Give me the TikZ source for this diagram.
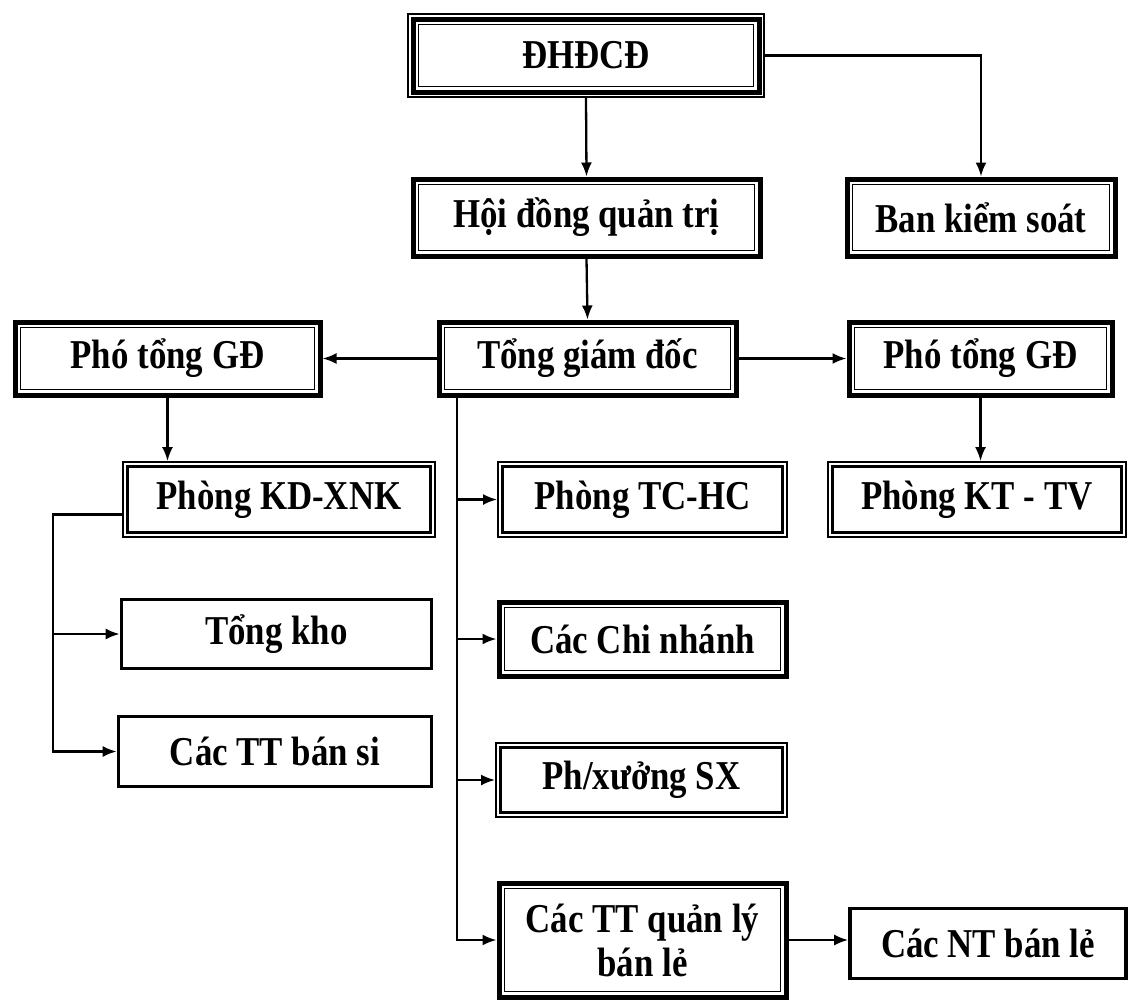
\documentclass[tikz,border=0pt]{standalone}
\usepackage{fontspec}
\setmainfont{Liberation Serif}[FakeStretch=0.85]
\usetikzlibrary{arrows,arrows.meta,positioning,calc}

\tikzset{
  unit/.style={draw,align=center,inner sep=0pt,
    font=\fontsize{41}{44}\selectfont\bfseries},
  tripleunit/.style={unit,line width=1.8pt,
    path picture={
      \draw[line width=5pt] ([shift={(5pt,5pt)}]path picture bounding box.south west)
        rectangle ([shift={(-5pt,-5pt)}]path picture bounding box.north east);
      \draw[line width=1.8pt] ([shift={(10.5pt,10.5pt)}]path picture bounding box.south west)
        rectangle ([shift={(-10.5pt,-10.5pt)}]path picture bounding box.north east);}},
  thickunit/.style={unit,line width=5pt,
    path picture={
      \draw[line width=1.8pt] ([shift={(5.5pt,5.5pt)}]path picture bounding box.south west)
        rectangle ([shift={(-5.5pt,-5.5pt)}]path picture bounding box.north east);}},
  thinunit/.style={unit,line width=1.8pt,
    path picture={
      \draw[line width=3pt] ([shift={(4.8pt,4.8pt)}]path picture bounding box.south west)
        rectangle ([shift={(-4.8pt,-4.8pt)}]path picture bounding box.north east);}},
  plainunit/.style={unit,line width=3.6pt},
  link/.style={-{Latex[length=14pt,width=11pt]},line width=2.3pt}
}

\begin{document}
\begin{tikzpicture}[x=1pt,y=-1pt]
\useasboundingbox (0,0) rectangle (1130,1002);
\node (dhdcd) [tripleunit,minimum width=356pt,minimum height=83pt] at (586,55.5) {ĐHĐCĐ};
\node (hdqt) [thickunit,minimum width=347pt,minimum height=77pt] at (586.5,217.5) {Hội đồng quản trị};
\node (bks) [thickunit,minimum width=268pt,minimum height=77pt] at (981,217.5) {Ban kiểm soát};
\node (tgd) [thickunit,minimum width=297pt,minimum height=73pt] at (587.5,358.5) {Tổng giám đốc};
\node (phoL) [thickunit,minimum width=305pt,minimum height=73pt] at (167.5,358.5) {Phó tổng GĐ};
\node (phoR) [thickunit,minimum width=263pt,minimum height=73pt] at (980.5,358.5) {Phó tổng GĐ};
\node (kdxnk) [thinunit,minimum width=312pt,minimum height=75pt] at (279,499.5) {Phòng KD-XNK};
\node (tchc) [thinunit,minimum width=289pt,minimum height=75pt] at (642.5,499.5) {Phòng TC-HC};
\node (kttv) [thinunit,minimum width=298pt,minimum height=75pt] at (977,499.5) {Phòng KT - TV};
\node (tongkho) [plainunit,minimum width=310pt,minimum height=69pt] at (276.5,634) {Tổng kho};
\node (bansi) [plainunit,minimum width=313pt,minimum height=70pt] at (275,751.5) {Các TT bán si};
\node (chinhanh) [thickunit,minimum width=287pt,minimum height=74pt] at (642.5,639) {Các Chi nhánh};
\node (phxuong) [thinunit,minimum width=291pt,minimum height=74pt] at (641.5,780) {Ph/xưởng SX};
\node (ttql) [thickunit,minimum width=287pt,minimum height=114pt] at (642.5,940) {Các TT quản lý\\bán lẻ};
\node (ntbl) [plainunit,minimum width=276pt,minimum height=70pt] at (988,943.5) {Các NT bán lẻ};

\coordinate (kdbus) at (53,0);
\coordinate (tgdbus) at (457,0);

\draw [link] (dhdcd.south) -- (hdqt.north);
\draw [link] (dhdcd.east) -| (bks.north);
\draw [link] (hdqt.south) -- (tgd.north);
\draw [link] (tgd.west) -- (phoL.east);
\draw [link] (tgd.east) -- (phoR.west);
\draw [link] (phoL.south) -- (phoL.south |- kdxnk.north);
\draw [link] (phoR.south) -- (phoR.south |- kttv.north);
\draw [link] ([yshift=-15pt]kdxnk.west) -| (kdbus |- bansi.west) -- (bansi.west);
\draw [link] (kdbus |- tongkho.west) -- (tongkho.west);
\draw [link] (tgdbus |- tgd.south) -- (tgdbus |- ttql.west) -- (ttql.west);
\foreach \n in {tchc,chinhanh,phxuong}
  \draw [link] (tgdbus |- \n.west) -- (\n.west);
\draw [link] (ttql.east) -- (ttql.east -| ntbl.west);
\end{tikzpicture}
\end{document}
